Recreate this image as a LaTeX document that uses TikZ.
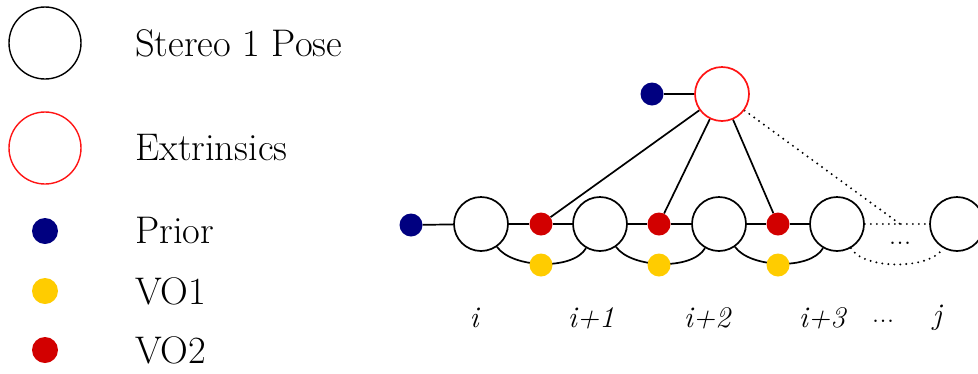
\documentclass[tikz,border=0pt]{standalone}
\usepackage{tikz}
\usetikzlibrary{backgrounds}
\definecolor{navy}{RGB}{0,0,128}
\definecolor{vored}{RGB}{210,0,0}
\definecolor{voyel}{RGB}{255,204,0}
\definecolor{extred}{RGB}{255,20,20}
\begin{document}
\begin{tikzpicture}[x=1pt,y=-1pt,
  pose/.style={circle,draw=black,line width=1.7pt,fill=white,minimum size=54pt,inner sep=0pt},
  lpose/.style={circle,draw=black,line width=1.4pt,fill=white,minimum size=72pt,inner sep=0pt},
  extr/.style={circle,draw=extred,line width=1.7pt,fill=white,minimum size=54pt,inner sep=0pt},
  lextr/.style={circle,draw=extred,line width=1.4pt,fill=white,minimum size=72pt,inner sep=0pt},
  dotf/.style={circle,fill=#1,minimum size=23pt,inner sep=0pt},
  ldot/.style={circle,fill=#1,minimum size=26pt,inner sep=0pt},
  legtxt/.style={anchor=west,font=\fontsize{38.5}{44}\selectfont,inner sep=0pt},
  lbl/.style={font=\fontsize{30}{36}\selectfont\itshape,inner sep=0pt},
  dotstxt/.style={font=\fontsize{30}{34}\selectfont,inner sep=0pt},
  edge/.style={line width=1.7pt,draw=black},
  dedge/.style={line width=2.2pt,draw=black,dash pattern=on 0pt off 6pt,line cap=round}
]
\useasboundingbox (0,0) rectangle (978,373);
\clip (0,0) rectangle (978,373);
% legend
\node[lpose] (lp) at (45,43) {};
\node[legtxt] (tp) at (135,43) {Stereo 1 Pose};
\node[lextr] (le) at (45,148) {};
\node[legtxt] (te) at (135,148) {Extrinsics};
\node[ldot=navy] (lb) at (45,231) {};
\node[legtxt] (tb) at (135,231) {Prior};
\node[ldot=voyel] (ly) at (45,291) {};
\node[legtxt] (ty) at (135,291) {VO1};
\node[ldot=vored] (lr) at (45,350) {};
\node[legtxt] (tr) at (135,350) {VO2};

% graph
\coordinate (f4) at (900,224);
\node[pose] (p1) at (481,224) {};
\node[pose] (p2) at (600,224) {};
\node[pose] (p3) at (719,224) {};
\node[pose] (p4) at (837,224) {};
\node[pose] (pj) at (957,224) {};
\node[extr] (ex) at (722,94) {};
\node[dotf=navy] (bp) at (411,225) {};
\node[dotf=navy] (be) at (652,94) {};
\node[dotf=vored] (r1) at (541,224) {};
\node[dotf=vored] (r2) at (659,224) {};
\node[dotf=vored] (r3) at (778,224) {};
\node[dotf=voyel] (y1) at (541,265) {};
\node[dotf=voyel] (y2) at (659,265) {};
\node[dotf=voyel] (y3) at (778,265) {};

\begin{scope}[on background layer]
\draw[edge] (bp) -- (p1);
\draw[edge] (be) -- (ex);
\draw[edge] (p1) -- (r1) -- (p2) -- (r2) -- (p3) -- (r3) -- (p4);
\draw[edge] (ex) -- (r1);
\draw[edge] (ex) -- (r2);
\draw[edge] (ex) -- (r3);
\draw[dedge] (ex) -- (f4);
\draw[dedge] (p4) -- (pj);
\draw[edge] (p1) to[out=-55,in=-120,looseness=0.75] (p2);
\draw[edge] (p2) to[out=-55,in=-120,looseness=0.75] (p3);
\draw[edge] (p3) to[out=-55,in=-120,looseness=0.75] (p4);
\draw[dedge] (p4) to[out=-60,in=-120,looseness=0.7] (pj);
\end{scope}
\node[dotstxt] (dd) at (900,243) {...};

% labels
\node[lbl] (li) at (474,318) {i};
\node[lbl] (l1) at (591,318) {i+1};
\node[lbl] (l2) at (707,318) {i+2};
\node[lbl] (l3) at (822,318) {i+3};
\node[dotstxt] (ld) at (883,321) {...};
\node[lbl] (lj) at (937,318) {j};
\end{tikzpicture}
\end{document}
